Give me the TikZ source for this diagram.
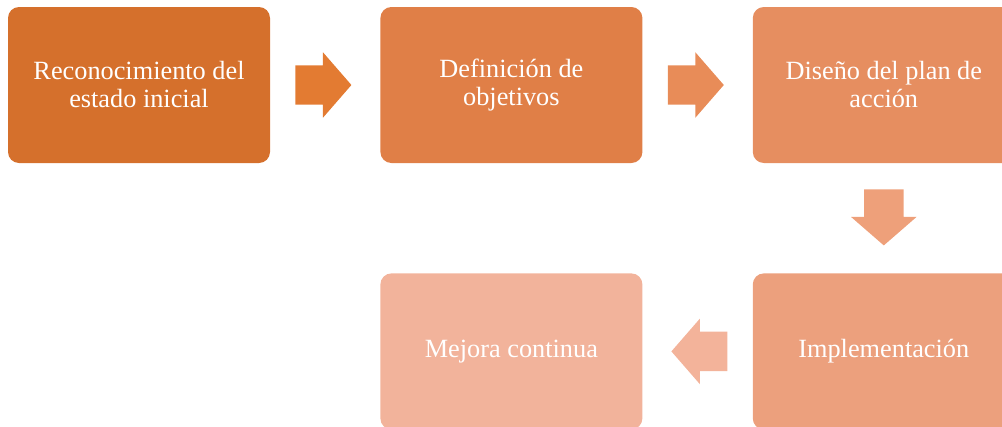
\documentclass[tikz,border=0pt]{standalone}
\usepackage{fontspec}
\setmainfont{Liberation Serif}
\usetikzlibrary{calc}
\usetikzlibrary{positioning}
\usetikzlibrary{shapes.arrows}

\definecolor{colA}{HTML}{D5702C}
\definecolor{colB}{HTML}{E07F47}
\definecolor{colC}{HTML}{E68E60}
\definecolor{colD}{HTML}{ECA07D}
\definecolor{colE}{HTML}{F2B39B}
\definecolor{arrA}{HTML}{E37B32}
\definecolor{arrB}{HTML}{E88C58}
\definecolor{arrC}{HTML}{EEA07A}
\definecolor{arrD}{HTML}{F3B39A}

\begin{document}
\begin{tikzpicture}[x=1pt, y=-1pt, node distance=110pt, font=\fontsize{26.3}{28}\selectfont]
	\tikzstyle{block}=[rectangle, rounded corners=11pt, minimum width=262pt, minimum height=156pt, align=center, text=white, inner sep=0pt]
	\tikzstyle{flecha}=[single arrow, anchor=tail, minimum height=56pt, inner xsep=0pt, inner ysep=19.5pt, single arrow head extend=13pt, single arrow tip angle=98]

	\useasboundingbox (0,0) rectangle (1002,426);
	\clip (0,0) rectangle (1002,426);

	\node[block, fill=colA] (rec) at (139,85) {Reconocimiento del\\estado inicial};
	\node[block, fill=colB, right=of rec] (obj) {Definición de\\objetivos};
	\node[block, fill=colC, right=of obj] (plan) {Diseño del plan de\\acción};
	\node[block, fill=colD, below=of plan] (impl) {Implementación};
	\node[block, fill=colE, left=of impl] (mej) {Mejora continua};

	% block arrows between the steps
	\node[flecha, fill=arrA] (f1) at ($(rec.east)!25pt!(obj.west)$) {};
	\node[flecha, fill=arrB] (f2) at ($(obj.east)!25pt!(plan.west)$) {};
	\node[flecha, fill=arrC, rotate=-90] (f3) at ($(plan.south)!26pt!(impl.north)$) {};
	\node[flecha, fill=arrD, rotate=180] (f4) at ($(impl.west)!25pt!(mej.east)$) {};
\end{tikzpicture}
\end{document}
